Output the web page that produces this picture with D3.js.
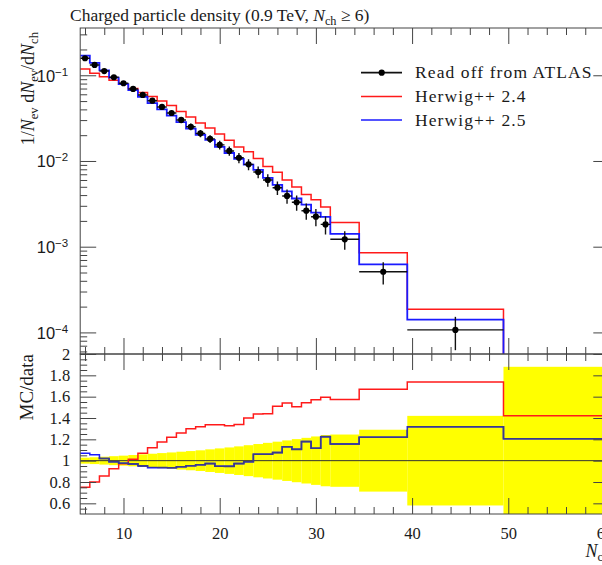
<!DOCTYPE html>
<html>
<head>
<meta charset="utf-8">
<script src="https://cdn.jsdelivr.net/npm/d3@7"></script>
<style>
  html, body { margin: 0; padding: 0; background: #fff; }
  svg { display: block; font-family: "Liberation Serif", "DejaVu Serif", serif; }
</style>
</head>
<body>
<svg id="chart" width="602" height="565"></svg>
<script>
// Bin edges in N_ch: unit bins up to 31, then wider bins
const binEdges = [5.5, 6.5, 7.5, 8.5, 9.5, 10.5, 11.5, 12.5, 13.5, 14.5, 15.5, 16.5, 17.5, 18.5,
  19.5, 20.5, 21.5, 22.5, 23.5, 24.5, 25.5, 26.5, 27.5, 28.5, 29.5, 30.5, 31.5, 34.5, 39.5, 49.5, 60.5];

// 1/N_ev dN_ev/dN_ch, measured points (ATLAS, 0.9 TeV, N_ch >= 6)
const dataValues = [0.158, 0.132, 0.112, 0.0948, 0.0807, 0.0692, 0.0589, 0.0505, 0.0427, 0.0363,
  0.0301, 0.0251, 0.0210, 0.0181, 0.0154, 0.0131, 0.0109, 0.00914, 0.00744, 0.0060,
  0.00488, 0.00391, 0.00330, 0.00263, 0.00224, 0.00182, 0.00122, 0.00051, 0.000107, 0.000020];

// Relative uncertainty of the measurement in each bin
const dataRelErr = [0.028, 0.032, 0.037, 0.042, 0.047, 0.053, 0.059, 0.065, 0.071, 0.077,
  0.084, 0.090, 0.097, 0.106, 0.115, 0.124, 0.134, 0.145, 0.156, 0.167,
  0.178, 0.190, 0.202, 0.214, 0.227, 0.240, 0.245, 0.29, 0.42, 0.88];

// Generator predictions
const herwig24 = [0.1185, 0.1056, 0.0958, 0.0877, 0.0783, 0.0702, 0.0630, 0.0566, 0.0502, 0.0443,
  0.0379, 0.0326, 0.0277, 0.0242, 0.0206, 0.0174, 0.0146, 0.0128, 0.0107, 0.00864,
  0.00737, 0.00602, 0.00497, 0.00406, 0.00352, 0.00290, 0.00192, 0.000852, 0.000186, 0.0000284];

const herwig25 = [0.1691, 0.1393, 0.1142, 0.0939, 0.0787, 0.0671, 0.0560, 0.0472, 0.0399, 0.0339,
  0.0284, 0.0239, 0.0202, 0.0176, 0.0146, 0.0124, 0.0106, 0.00905, 0.00789, 0.00636,
  0.00525, 0.00442, 0.00365, 0.00310, 0.00250, 0.00223, 0.00141, 0.000622, 0.000141, 0.0000241];

// Axis ticks
const xMajorTicks = [10, 20, 30, 40, 50, 60];
const xMinorTicks = [6, 8, 12, 14, 16, 18, 22, 24, 26, 28, 32, 34, 36, 38, 42, 44, 46, 48, 52, 54, 56, 58];
const yMainMajor = [1e-4, 1e-3, 1e-2, 1e-1];
const yMainLabels = ["\u22124", "\u22123", "\u22122", "\u22121"];
const ratioMajor = [0.6, 0.8, 1, 1.2, 1.4, 1.6, 1.8, 2];
const ratioLabels = ["0.6", "0.8", "1", "1.2", "1.4", "1.6", "1.8", "2"];

const svg = d3.select("#chart");

// Layout
const L = 80.2, R = 609.3;
const mainTop = 28, mainBot = 354, ratTop = 354, ratBot = 514;

const x = d3.scaleLinear().domain([5.5, 60.5]).range([L, R]);
const yMain = d3.scaleLog().domain([5.6e-5, 0.356]).range([mainBot, mainTop]);
const yRat = d3.scaleLinear().domain([0.5, 2]).range([ratBot, ratTop]);

const bins = dataValues.map((v, i) => ({
  lo: binEdges[i], hi: binEdges[i + 1], mid: (binEdges[i] + binEdges[i + 1]) / 2,
  data: v, err: v * dataRelErr[i], rel: dataRelErr[i],
  h24: herwig24[i], h25: herwig25[i]
}));

const defs = svg.append("defs");
defs.append("clipPath").attr("id", "clipMain").append("rect")
  .attr("x", L).attr("y", mainTop).attr("width", R - L).attr("height", mainBot - mainTop);
defs.append("clipPath").attr("id", "clipRat").append("rect")
  .attr("x", L).attr("y", ratTop).attr("width", R - L).attr("height", ratBot - ratTop);

const red = "#ff1a1a", blue = "#1a1aff";
const line = d3.line();

// ---------- Main panel ----------
const gMain = svg.append("g").attr("clip-path", "url(#clipMain)");
const logClamp = v => Math.max(v, 1e-7);

function mainStep(key) {
  const pts = [];
  bins.forEach(b => {
    const v = logClamp(b[key]);
    pts.push([x(b.lo), yMain(v)], [x(b.hi), yMain(v)]);
  });
  return pts;
}

gMain.append("path").attr("d", line(mainStep("h24")))
  .attr("fill", "none").attr("stroke", red).attr("stroke-width", 1.5);
gMain.append("path").attr("d", line(mainStep("h25")))
  .attr("fill", "none").attr("stroke", blue).attr("stroke-width", 1.8);

const pts = gMain.append("g");
pts.selectAll("line.xe").data(bins).join("line").attr("class", "xe")
  .attr("x1", d => x(d.lo)).attr("x2", d => x(d.hi))
  .attr("y1", d => yMain(d.data)).attr("y2", d => yMain(d.data))
  .attr("stroke", "#111").attr("stroke-width", 1.4);
pts.selectAll("line.ye").data(bins).join("line").attr("class", "ye")
  .attr("x1", d => x(d.mid)).attr("x2", d => x(d.mid))
  .attr("y1", d => yMain(d.data + d.err)).attr("y2", d => yMain(Math.max(d.data - d.err, 1e-7)))
  .attr("stroke", "#111").attr("stroke-width", 1.4);
pts.selectAll("circle").data(bins).join("circle")
  .attr("cx", d => x(d.mid)).attr("cy", d => yMain(d.data)).attr("r", 3.1).attr("fill", "#000");

// ---------- Ratio panel ----------
const gRat = svg.append("g").attr("clip-path", "url(#clipRat)");
const bandRect = sel => sel
  .attr("x", d => x(d.lo)).attr("width", d => x(d.hi) - x(d.lo))
  .attr("y", d => yRat(1 + d.rel)).attr("height", d => yRat(1 - d.rel) - yRat(1 + d.rel));

gRat.selectAll("rect.band").data(bins).join("rect").attr("class", "band")
  .call(bandRect).attr("fill", "#ffff00");
// the uncertainty band as a clip region, so lines crossing it can be tinted
defs.append("clipPath").attr("id", "clipBand")
  .selectAll("rect").data(bins).join("rect").call(bandRect);

gRat.append("line").attr("x1", L).attr("x2", R).attr("y1", yRat(1)).attr("y2", yRat(1))
  .attr("stroke", "#333").attr("stroke-width", 1);

function ratioStep(key) {
  const p = [];
  bins.forEach(b => {
    const r = b[key] / b.data;
    p.push([x(b.lo), yRat(r)], [x(b.hi), yRat(r)]);
  });
  return p;
}
gRat.append("path").attr("d", line(ratioStep("h24")))
  .attr("fill", "none").attr("stroke", red).attr("stroke-width", 1.5);
gRat.append("path").attr("d", line(ratioStep("h25")))
  .attr("fill", "none").attr("stroke", blue).attr("stroke-width", 1.5);
gRat.append("g").attr("clip-path", "url(#clipBand)")
  .append("path").attr("d", line(ratioStep("h25")))
  .attr("fill", "none").attr("stroke", "#3a3a8c").attr("stroke-width", 1.6);

// ---------- Frames and ticks ----------
const axisCol = "#444";
function styleAxis(g) {
  g.select(".domain").remove();
  g.selectAll(".tick line").attr("stroke", axisCol).attr("stroke-width", 1);
  g.selectAll(".tick text").attr("fill", "#1a1a1a");
}
const majLen = 16, minLen = 7;

// x ticks on each horizontal frame edge
[[mainTop, "top"], [mainBot, "bottom"], [ratTop, "top"], [ratBot, "bottom"]].forEach(([yy, side]) => {
  const mk = side === "top" ? d3.axisTop : d3.axisBottom;
  svg.append("g").attr("transform", `translate(0,${yy})`)
    .call(mk(x).tickValues(xMajorTicks).tickSize(-majLen).tickFormat(""))
    .call(styleAxis);
  svg.append("g").attr("transform", `translate(0,${yy})`)
    .call(mk(x).tickValues(xMinorTicks).tickSize(-minLen).tickFormat(""))
    .call(styleAxis);
});

// x tick labels under the ratio panel
svg.append("g").attr("transform", `translate(0,${ratBot})`)
  .call(d3.axisBottom(x).tickValues(xMajorTicks).tickSize(0).tickPadding(13).tickFormat(d3.format("d")))
  .call(styleAxis)
  .selectAll("text").attr("font-size", 16.5).attr("font-family", "Liberation Serif");

// log y ticks, main panel
const yMinor = yMain.ticks().filter(v => !yMainMajor.some(m => Math.abs(m - v) / m < 1e-6));
[[L, d3.axisLeft], [R, d3.axisRight]].forEach(([xx, mk]) => {
  svg.append("g").attr("transform", `translate(${xx},0)`)
    .call(mk(yMain).tickValues(yMainMajor).tickSize(-majLen).tickFormat(""))
    .call(styleAxis);
  svg.append("g").attr("transform", `translate(${xx},0)`)
    .call(mk(yMain).tickValues(yMinor).tickSize(-minLen).tickFormat(""))
    .call(styleAxis);
});
const yLab = svg.append("g").attr("transform", `translate(${L},0)`)
  .call(d3.axisLeft(yMain).tickValues(yMainMajor).tickSize(0).tickPadding(12).tickFormat(""))
  .call(styleAxis);
yLab.selectAll(".tick text").each(function (d, i) {
  const t = d3.select(this).attr("font-size", 16.5).attr("dy", "0.35em").attr("x", -12);
  t.append("tspan").text("10");
  t.append("tspan").attr("font-size", 11.5).attr("dy", -6).text(yMainLabels[i]);
});

// linear y ticks, ratio panel
const ratMinor = d3.range(0.55, 2.0, 0.05).filter(v => !ratioMajor.some(m => Math.abs(m - v) < 1e-6));
[[L, d3.axisLeft], [R, d3.axisRight]].forEach(([xx, mk]) => {
  svg.append("g").attr("transform", `translate(${xx},0)`)
    .call(mk(yRat).tickValues(ratioMajor).tickSize(-majLen).tickFormat(""))
    .call(styleAxis);
  svg.append("g").attr("transform", `translate(${xx},0)`)
    .call(mk(yRat).tickValues(ratMinor).tickSize(-minLen).tickFormat(""))
    .call(styleAxis);
});
svg.append("g").attr("transform", `translate(${L},0)`)
  .call(d3.axisLeft(yRat).tickValues(ratioMajor).tickSize(0).tickPadding(10)
    .tickFormat((d, i) => ratioLabels[i]))
  .call(styleAxis)
  .selectAll("text").attr("font-size", 16.5).attr("font-family", "Liberation Serif");

// frames
[[mainTop, mainBot], [ratTop, ratBot]].forEach(([t, b]) => {
  svg.append("rect").attr("x", L).attr("y", t).attr("width", R - L).attr("height", b - t)
    .attr("fill", "none").attr("stroke", axisCol).attr("stroke-width", 1);
});

// ---------- Text ----------
function rich(sel, parts, size) {
  parts.forEach(p => {
    const ts = sel.append("tspan").text(p.t);
    if (p.it) ts.attr("font-style", "italic");
    if (p.sub) ts.attr("font-size", size * 0.7).attr("dy", size * 0.22);
    if (p.back) ts.attr("dy", -size * 0.22);
  });
}

// title
const title = svg.append("text").attr("x", 70).attr("y", 21).attr("font-size", 17.5).attr("fill", "#1a1a1a");
rich(title, [
  { t: "Charged particle density (0.9 TeV, " }, { t: "N", it: true }, { t: "ch", sub: true },
  { t: " \u2265 6)", back: true }
], 17.5);

// y-axis title, main panel
const yTitle = svg.append("text").attr("transform", `translate(34,${mainTop + 4}) rotate(-90)`)
  .attr("text-anchor", "end").attr("font-size", 18).attr("fill", "#1a1a1a");
rich(yTitle, [
  { t: "1/" }, { t: "N", it: true }, { t: "ev", sub: true },
  { t: " d", back: true }, { t: "N", it: true }, { t: "ev", sub: true },
  { t: "/d", back: true }, { t: "N", it: true }, { t: "ch", sub: true }
], 18);

// y-axis title, ratio panel
svg.append("text").attr("transform", `translate(33,${ratTop}) rotate(-90)`)
  .attr("text-anchor", "end").attr("font-size", 19).attr("fill", "#1a1a1a").text("MC/data");

// x-axis title
const xTitle = svg.append("text").attr("x", R).attr("y", 557).attr("text-anchor", "end")
  .attr("font-size", 18).attr("fill", "#1a1a1a");
rich(xTitle, [{ t: "N", it: true }, { t: "ch", sub: true }], 18);

// legend
const legend = [
  { label: "Read off from ATLAS", color: "#111", dot: true, w: 1.8 },
  { label: "Herwig++ 2.4", color: red, dot: false, w: 1.5 },
  { label: "Herwig++ 2.5", color: blue, dot: false, w: 1.5 }
];
const lg = svg.append("g");
legend.forEach((e, i) => {
  const yy = 72.7 + i * 23.7;
  lg.append("line").attr("x1", 361).attr("x2", 402).attr("y1", yy).attr("y2", yy)
    .attr("stroke", e.color).attr("stroke-width", e.w);
  if (e.dot) lg.append("circle").attr("cx", 381.7).attr("cy", yy).attr("r", 3.1).attr("fill", "#000");
  lg.append("text").attr("x", 415).attr("y", yy + 5.5).attr("font-size", 17.5)
    .attr("letter-spacing", 1.1).attr("fill", "#1a1a1a").text(e.label);
});
</script>
</body>
</html>
